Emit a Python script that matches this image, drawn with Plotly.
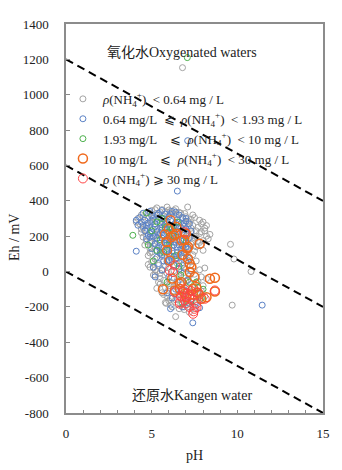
import plotly.graph_objects as go

# ---------------- data ----------------
gray_ph = [5.0, 5.3, 5.6, 5.9, 6.1, 6.4, 5.5, 6.0, 7.1, 6.93,
           4.2, 4.4, 4.6, 4.9, 5.1, 5.4, 5.7, 6.2, 6.5, 6.8, 7.0, 7.3, 7.5, 4.7, 5.2, 6.6, 7.2,
           4.3, 4.5, 4.8, 5.0, 5.3, 5.8, 6.3, 6.9, 7.4, 7.7, 7.9, 8.1, 4.6, 5.6, 6.1, 7.1, 7.6, 8.0,
           4.4, 4.7, 5.0, 5.4, 5.9, 6.5, 7.0, 7.5, 7.8, 8.2, 8.0, 4.9, 5.7, 6.8, 7.3, 8.3, 7.7,
           4.6, 4.9, 5.2, 5.5, 6.0, 6.4, 6.9, 7.3, 7.6, 8.0, 5.0, 5.8, 6.7, 7.8,
           4.8, 5.2, 5.5, 5.9, 6.3, 6.7, 7.1, 7.4, 5.0, 6.1, 6.9, 7.6,
           4.8, 5.1, 5.4, 5.6, 6.0, 6.5, 7.0, 7.4, 7.8, 8.1, 5.3, 6.7, 4.9, 5.2, 5.5,
           5.2, 5.5, 5.9, 6.2, 6.6, 7.1, 7.5, 7.9, 8.2, 5.7, 6.9, 7.7,
           5.5, 5.8, 6.1, 6.4, 6.8, 7.2, 7.6, 8.0, 6.0, 7.0, 5.3,
           5.6, 5.9, 6.3, 6.6, 7.0, 7.3, 7.7, 8.1, 6.1, 6.9,
           5.8, 6.1, 6.4, 6.7, 7.0, 7.4, 7.8, 6.2, 6.9, 5.85,
           6.4, 6.9, 7.2,
           4.5, 4.8, 5.2, 5.8, 6.3, 6.7, 7.4, 7.8, 8.2, 4.1, 4.4, 5.5, 6.7, 7.3, 7.9, 8.4,
           4.5, 5.2, 6.2, 7.2, 7.6, 8.1, 4.7, 5.4, 6.3, 7.4, 7.9, 5.1, 5.7, 6.5, 7.1, 7.5,
           4.9, 5.6, 6.5, 7.0, 7.3, 5.8, 6.3, 6.8, 7.2, 6.0, 6.6, 7.4, 7.9, 6.5, 7.1, 7.6,
           6.0, 5.4, 5.1, 5.7, 7.5, 6.6,
           6.8, 9.6, 9.8, 10.8, 9.7]
gray_eh = [345, 360, 350, 365, 340, 355, 335, 348, 365, 328,
           300, 320, 290, 330, 310, 325, 315, 330, 320, 300, 310, 295, 305, 335, 295, 335, 280,
           270, 250, 260, 280, 240, 285, 255, 275, 260, 250, 270, 245, 235, 265, 240, 285, 230, 280,
           220, 200, 190, 215, 180, 225, 200, 190, 215, 200, 175, 170, 205, 170, 225, 185, 170,
           150, 130, 160, 120, 140, 165, 125, 155, 140, 120, 110, 115, 150, 165,
           90, 70, 100, 60, 85, 105, 65, 95, 55, 50, 80, 60,
           40, 20, 35, 5, 25, 45, 15, 30, 10, 20, 0, -5, 25, 10, -10,
           -20, -40, -10, -35, -25, -45, -15, -30, -40, -50, -5, -55,
           -70, -90, -60, -85, -75, -95, -65, -80, -100, -55, -95,
           -120, -140, -110, -130, -145, -115, -125, -140, -150, -105,
           -175, -190, -160, -185, -170, -195, -165, -200, -200, -180,
           -255, -215, -230,
           310, 300, 350, 340, 345, 330, 320, 290, 260, 280, 240, 255, 250, 245, 225, 210,
           195, 205, 210, 205, 200, 230, 170, 175, 185, 170, 150, 145, 130, 135, 140, 115,
           105, 85, 75, 100, 55, 30, 5, 35, -25, -80, -45, -90, -110, -155, -175, -150,
           -165, -60, -20, -130, -210, -210,
           1153, 154, 71, 0, -190]

blue_ph = [4.5, 4.9, 5.3, 5.6, 6.0, 6.4, 6.8, 5.1, 5.8, 6.2, 4.3, 7.0,
           4.4, 4.7, 5.0, 5.2, 5.5, 5.8, 6.1, 6.3, 6.6, 6.9, 7.2, 4.9, 5.4, 6.0, 6.5, 7.0,
           4.6, 4.9, 5.1, 5.4, 5.6, 5.9, 6.2, 6.5, 6.8, 7.1, 5.3, 6.0, 6.7, 7.3, 4.8,
           4.7, 5.0, 5.3, 5.5, 5.8, 6.1, 6.4, 6.7, 7.0, 7.2, 5.2, 5.9, 6.6, 4.9,
           5.0, 5.3, 5.6, 5.9, 6.2, 6.5, 6.8, 7.1, 5.5, 6.0, 6.9,
           5.3, 5.7, 6.1, 6.4, 6.8, 7.2, 5.9, 6.6,
           5.1, 5.6, 6.3, 6.9, 7.3,
           4.6, 5.0, 5.4, 5.7, 6.1, 6.6, 4.5, 4.8, 5.2, 5.6, 5.9, 6.4, 6.8,
           4.7, 5.0, 5.5, 5.8, 6.3, 6.6, 7.0, 5.1, 5.6, 6.0, 6.3, 6.9,
           5.4, 5.8, 6.3, 6.7, 7.0, 5.6, 6.2, 6.5, 7.0, 5.4, 6.0, 6.6,
           6.2, 6.8, 7.8, 7.4, 6.5, 7.0, 6.0, 7.6, 5.9, 7.1, 6.4, 7.2, 5.2, 6.1,
           4.1, 4.1, 4.2, 6.5, 7.1, 11.45]
blue_eh = [330, 340, 320, 345, 310, 335, 305, 300, 325, 340, 305, 300,
           280, 260, 290, 255, 275, 265, 290, 260, 280, 255, 270, 250, 295, 250, 295, 285,
           230, 215, 240, 205, 235, 220, 245, 210, 235, 215, 225, 200, 245, 230, 205,
           185, 170, 190, 160, 180, 165, 195, 175, 160, 190, 155, 150, 150, 195,
           130, 115, 140, 120, 135, 110, 145, 125, 105, 100, 105,
           80, 60, 90, 70, 85, 75, 55, 50,
           25, 10, 35, 20, 5,
           290, 315, 330, 300, 325, 320, 260, 275, 270, 250, 285, 275, 265,
           245, 220, 215, 240, 230, 225, 240, 200, 190, 180, 170, 180,
           140, 160, 150, 125, 140, 95, 115, 90, 60, 45, 65, 15,
           -150, -200, -205, -290, -60, -110, -30, -170, -120, -50, -100, -180, -30, -210,
           115, 290, 262, 455, 740, -190]

green_ph = [3.9, 4.7, 5.0, 5.5, 6.0, 6.4, 5.8, 6.3, 5.3, 6.6, 7.2, 7.5, 7.9, 8.0,
            6.8, 5.9, 6.2, 5.6, 7.0, 6.5, 6.9, 7.7, 5.1,
            5.3, 6.0, 5.7, 6.7, 7.3, 7.6, 4.8, 7.08]
green_eh = [205, 331, 230, 180, 150, 90, 250, 200, 120, 30, -60, -120, -150, -100,
            -180, -60, 240, 300, 170, 280, -130, -90, 60,
            280, 220, 110, -20, -170, -60, 150, 1210]

orange_ph = [6.1, 6.44, 7.0, 6.74, 7.8, 6.3, 7.07, 6.05, 7.12, 7.32, 7.22, 7.5, 6.64, 5.66,
             6.35, 7.6, 8.69, 8.4, 8.69, 8.2, 6.93, 7.9, 6.15, 5.86, 5.76, 6.44, 7.12, 7.22,
             6.74, 7.03, 7.42, 6.64, 6.9, 6.0, 7.4, 6.2, 5.9, 6.8, 7.7]
orange_eh = [290, 252, 214, 176, 157, 205, 130, 63, 73, 25, -3, -31, -69, -100,
             -107, -88, -35, -41, -113, -145, -126, -154, 195, 167, 209, 214, 140, 44,
             -60, -145, -97, -97, 180, 240, -130, -40, 120, 95, -120]

red_ph = [7.42, 7.5, 6.84, 7.22, 6.05, 6.35, 8.1, 8.69, 6.25, 7.6, 6.35, 7.22, 6.93,
          7.62, 6.64, 6.64, 7.62, 6.93, 7.0, 7.1, 7.3, 6.9, 7.45, 7.2, 7.0, 6.7, 7.8]
red_eh = [-239, -211, -117, -135, 7, -117, -154, -107, -3, -182, 35, -154, -163,
          -117, -173, -182, -201, 223, -140, -125, -110, -100, -225, -200, -180, -140, -130]

line_ph = [0, 15]
upper_eh = [1200, 400]
middle_eh = [600, -200]
lower_eh = [0, -800]

x_ticks = [0, 5, 10, 15]
y_ticks = [-800, -600, -400, -200, 0, 200, 400, 600, 800, 1000, 1200, 1400]
y_ticklabels = [str(v) for v in y_ticks]

NH = "NH<sub>4</sub><sup>+</sup>"
series_names = [
    "<i>ρ</i>(" + NH + ")  < 0.64 mg / L",
    "0.64 mg/L  ⩽  <i>ρ</i>(" + NH + ")  < 1.93 mg / L",
    "1.93 mg/L    ⩽  <i>ρ</i>(" + NH + ")  < 10 mg / L",
    "10 mg/L    ⩽  <i>ρ</i>(" + NH + ")  < 30 mg / L",
    "<i>ρ</i> (" + NH + ") ⩾ 30 mg / L",
]
series_names = [s.replace("  ", "\u00a0\u00a0") for s in series_names]

# ---------------- figure ----------------
SERIF = "Liberation Serif, Times New Roman, Noto Sans CJK SC, serif"
fig = go.Figure()

styles = [
    (gray_ph, gray_eh, "#a3a3a3", 6, 1),
    (blue_ph, blue_eh, "#5b82c6", 6, 1),
    (green_ph, green_eh, "#4cb04c", 6, 1),
    (orange_ph, orange_eh, "#f0691c", 9, 1.5),
    (red_ph, red_eh, "#ff4444", 9, 1),
]
for (xs, ys, col, sz, lw), name in zip(styles, series_names):
    fig.add_trace(go.Scatter(
        x=xs, y=ys, mode="markers", name=name,
        marker=dict(symbol="circle-open", size=sz, color=col, line=dict(width=lw, color=col)),
    ))

for ys in (upper_eh, middle_eh, lower_eh):
    fig.add_trace(go.Scatter(
        x=line_ph, y=ys, mode="lines", showlegend=False, hoverinfo="skip",
        line=dict(color="black", width=2, dash="8px,5px"),
    ))

fig.update_layout(
    width=342, height=470,
    margin=dict(l=66, r=19, t=24, b=57),
    paper_bgcolor="white", plot_bgcolor="white",
    font=dict(family=SERIF, size=13, color="#222"),
    legend=dict(
        x=-0.012, y=0.846, xanchor="left", yanchor="top",
        bgcolor="rgba(0,0,0,0)", font=dict(family=SERIF, size=13, color="#222"),
        itemwidth=30, tracegroupgap=0,
    ),
    annotations=[
        dict(text="氧化水Oxygenated waters", xref="paper", yref="paper", x=0.451, y=0.928,
             xanchor="center", yanchor="middle",
             showarrow=False, font=dict(family=SERIF, size=14, color="#222")),
        dict(text="还原水Kangen water", xref="paper", yref="paper", x=0.49, y=0.046,
             xanchor="center", yanchor="middle",
             showarrow=False, font=dict(family=SERIF, size=14, color="#222")),
        dict(text="pH", xref="paper", yref="paper", x=0.5, y=-0.108,
             xanchor="center", yanchor="middle",
             showarrow=False, font=dict(family=SERIF, size=14, color="#222")),
        dict(text="Eh / mV", xref="paper", yref="paper", x=-0.198, y=0.45, textangle=-90,
             xanchor="center", yanchor="middle",
             showarrow=False, font=dict(family=SERIF, size=14, color="#222")),
    ],
)
fig.update_xaxes(
    range=[0, 15], tickvals=x_ticks, ticks="inside", ticklen=3, tickcolor="#888",
    minor=dict(dtick=1, ticks="inside", ticklen=3, tickcolor="#888"),
    showline=True, linecolor="#8c8c8c", linewidth=1.5, mirror=True,
    showgrid=False, zeroline=False, ticklabelstandoff=8,
    tickfont=dict(family=SERIF, size=13, color="#222"),
)
fig.update_yaxes(
    range=[-800, 1400], tickvals=y_ticks, ticktext=y_ticklabels,
    ticks="inside", ticklen=4, tickcolor="#888",
    showline=True, linecolor="#8c8c8c", linewidth=1.5, mirror=True,
    showgrid=False, zeroline=False, ticklabelstandoff=13,
    tickfont=dict(family=SERIF, size=13, color="#222"),
)

fig.write_html("out.html")
